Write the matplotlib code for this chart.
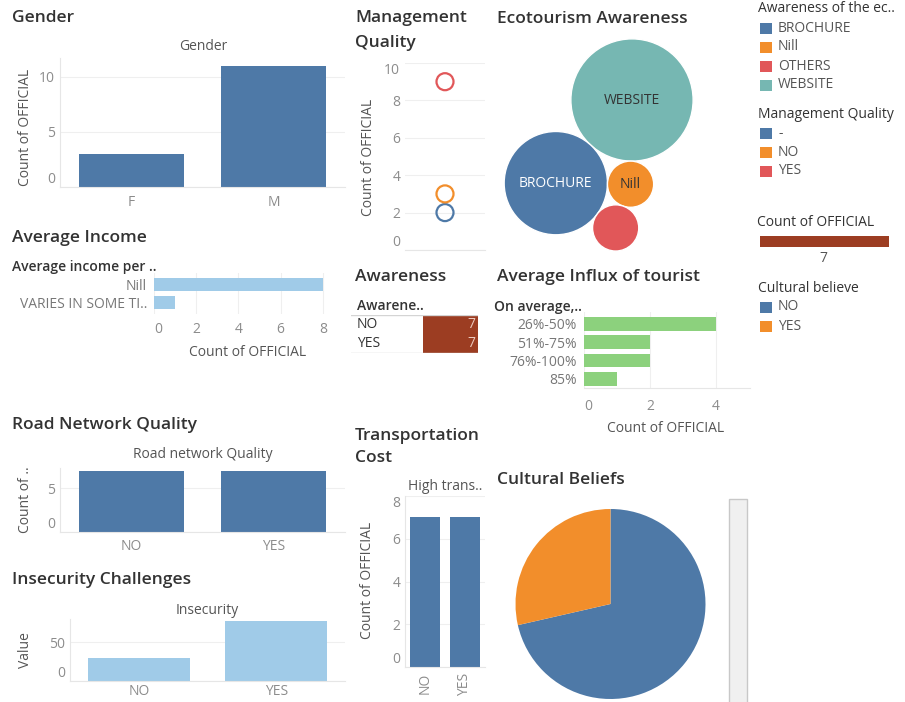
import numpy as np
import matplotlib
matplotlib.use('Agg')
import matplotlib.pyplot as plt
from matplotlib.patches import Rectangle, Circle

plt.rcParams['font.family'] = ['Open Sans', 'DejaVu Sans']

# ---- data ----
gender_cats = ['F', 'M']
gender_counts = [3, 11]

income_cats = ['Nill', 'VARIES IN SOME TI..']
income_counts = [8, 1]

mgmt_cats = ['-', 'NO', 'YES']
mgmt_counts = [2, 3, 9]

eco_cats = ['WEBSITE', 'BROCHURE', 'Nill', 'OTHERS']
eco_counts = [7, 5, 1, 1]

awareness_cats = ['NO', 'YES']
awareness_counts = [7, 7]

influx_cats = ['26%-50%', '51%-75%', '76%-100%', '85%']
influx_counts = [4, 2, 2, 1]

road_cats = ['NO', 'YES']
road_counts = [7, 7]

insecurity_cats = ['NO', 'YES']
insecurity_values = [29, 77]

transport_cats = ['NO', 'YES']
transport_counts = [7, 7]

cultural_cats = ['NO', 'YES']
cultural_counts = [10, 4]

# ---- colours ----
BLUE = '#4e79a7'
ORANGE = '#f28e2b'
RED = '#e15759'
TEAL = '#76b7b2'
LBLUE = '#a0cbe8'
LGREEN = '#8cd17d'
BROWN = '#9c3d22'
TITLE_C = '#333333'
AXT_C = '#555555'
TICK_C = '#8c8c8c'
GRID_C = '#efefef'

W, H = 905, 702
fig = plt.figure(figsize=(W/100, H/100), dpi=100)
fig.patch.set_facecolor('white')

# overlay in pixel coordinates for titles, legends, labels
ov = fig.add_axes([0, 0, 1, 1])
ov.set_xlim(0, W)
ov.set_ylim(H, 0)
ov.axis('off')


def px_axes(x0, y0, x1, y1):
    return fig.add_axes([x0/W, 1 - y1/H, (x1 - x0)/W, (y1 - y0)/H])


def style(ax, grid_axis='y'):
    for s in ['top', 'right']:
        ax.spines[s].set_visible(False)
    for s in ['left', 'bottom']:
        ax.spines[s].set_color('#e6e6e6')
        ax.spines[s].set_linewidth(0.8)
    ax.tick_params(length=0, colors=TICK_C, labelsize=10)
    ax.set_axisbelow(True)
    if grid_axis:
        ax.grid(axis=grid_axis, color=GRID_C, linewidth=0.8)


def inset_edge_labels(ax, axis='y', low=True, high=False):
    # tableau nudges the end labels inward so they don't hang off the pane
    labels = ax.get_yticklabels() if axis == 'y' else ax.get_xticklabels()
    if axis == 'y':
        if low:
            labels[0].set_va('bottom')
        if high:
            labels[-1].set_va('top')
    else:
        if low:
            labels[0].set_ha('left')


def title(x, y, s):
    ov.text(x, y, s, fontsize=12.5, fontweight='semibold', color=TITLE_C, va='center', ha='left')


def ylab(x, y, s):
    ov.text(x, y, s, fontsize=10, color=AXT_C, rotation=90, va='center', ha='center')


def legend_block(x, y, head, labels, colors, step=19):
    ov.text(x - 2, y, head, fontsize=10, color=TITLE_C, va='center', ha='left')
    for i, (lab, c) in enumerate(zip(labels, colors)):
        yy = y + step * (i + 1)
        ov.add_patch(Rectangle((x, yy - 5.5), 12, 11, facecolor=c, edgecolor='none'))
        ov.text(x + 18, yy, lab, fontsize=10, color=AXT_C, va='center', ha='left')


# ---- Gender ----
title(12, 18, 'Gender')
ov.text(203, 47, 'Gender', fontsize=10, color=AXT_C, ha='center', va='center')
ax = px_axes(60, 58, 345, 187)
ax.bar(range(len(gender_cats)), gender_counts, width=0.74, color=BLUE)
ax.set_xlim(-0.5, 1.5)
ax.set_ylim(0, 11.7)
ax.set_yticks([0, 5, 10])
ax.set_xticks(range(len(gender_cats)))
ax.set_xticklabels(gender_cats)
style(ax)
ax.tick_params(axis='x', pad=6)
inset_edge_labels(ax)
ylab(25, 127, 'Count of OFFICIAL')

# ---- Average Income ----
title(12, 238, 'Average Income')
ov.text(12, 267, 'Average income per ..', fontsize=10, fontweight='semibold', color=TITLE_C, va='center')
ax = px_axes(154, 273, 345, 314)
ax.barh(range(len(income_cats)), income_counts, height=0.7, color=LBLUE)
ax.set_ylim(1.6, -0.62)
ax.set_xlim(0, 9.05)
ax.set_xticks([0, 2, 4, 6, 8])
ax.set_yticks(range(len(income_cats)))
ax.set_yticklabels(income_cats)
style(ax, grid_axis='x')
ax.spines['left'].set_visible(False)
ax.spines['bottom'].set_visible(False)
ax.tick_params(axis='x', pad=6)
ax.tick_params(axis='y', pad=5, colors='#777777')
inset_edge_labels(ax, axis='x')
ov.text(248, 352, 'Count of OFFICIAL', fontsize=10, color=AXT_C, ha='center', va='center')

# ---- Management Quality ----
title(355, 18, 'Management')
title(355, 43, 'Quality')
ax = px_axes(405, 63, 485, 250)
ax.scatter([0] * len(mgmt_cats), mgmt_counts, s=150, facecolors='none',
           edgecolors=[BLUE, ORANGE, RED], linewidths=1.6)
ax.set_xlim(-1, 1)
ax.set_ylim(0, 10)
ax.set_yticks([0, 2, 4, 6, 8, 10])
ax.set_xticks([])
style(ax)
ax.spines['left'].set_visible(False)
inset_edge_labels(ax, high=True)
ylab(368, 157, 'Count of OFFICIAL')

# ---- Ecotourism Awareness (packed bubbles) ----
title(497, 19, 'Ecotourism Awareness')
bub_scale = 23.1  # px per sqrt(count)
radii = [bub_scale * np.sqrt(v) for v in eco_counts]


def tangent_to(ca, ra, cb, rb, r, side):
    d = np.array(cb) - np.array(ca)
    dist = np.hypot(*d)
    da, db = ra + r, rb + r
    a = (da**2 - db**2 + dist**2) / (2 * dist)
    h = np.sqrt(max(da**2 - a**2, 0))
    p = np.array(ca) + a * d / dist
    perp = np.array([-d[1], d[0]]) / dist
    return p + side * h * perp


ang = np.deg2rad(227.5)
centers = [np.array([0.0, 0.0])]
centers.append(centers[0] + (radii[0] + radii[1]) * np.array([np.cos(ang), np.sin(ang)]))
centers.append(tangent_to(centers[0], radii[0], centers[1], radii[1], radii[2], 1))
centers.append(tangent_to(centers[1], radii[1], centers[2], radii[2], radii[3], -1))

ax = px_axes(497, 30, 720, 262)
ax.set_xlim(497 - 632, 720 - 632)
ax.set_ylim(100 - 262, 100 - 30)
ax.axis('off')
eco_colors = [TEAL, BLUE, ORANGE, RED]
eco_text = ['#333333', 'white', '#333333', None]
for c, r, col, lab, tc in zip(centers, radii, eco_colors, eco_cats, eco_text):
    ax.add_patch(Circle(c, r, facecolor=col, edgecolor='white', linewidth=1))
    if tc:
        ax.text(c[0], c[1], lab, color=tc, fontsize=10, ha='center', va='center')

# ---- Awareness table ----
title(355, 277, 'Awareness')
ov.text(357, 306, 'Awarene..', fontsize=10, fontweight='semibold', color=TITLE_C, va='center')
ax = px_axes(351, 315, 478, 353)
ax.set_xlim(0, 127)
ax.set_ylim(len(awareness_cats), 0)
rows = np.arange(len(awareness_cats)) + 0.5
ax.barh(rows, [55] * len(rows), left=72, height=1, color=BROWN)
for r, lab, v in zip(rows, awareness_cats, awareness_counts):
    ax.text(6, r, lab, fontsize=10, color=TITLE_C, va='center')
    ax.text(124, r, str(v), fontsize=10, color='#ecc9bd', va='center', ha='right')
ax.axhline(0, color='#d4d4d4', linewidth=1)
ax.axhline(len(awareness_cats), color='#d4d4d4', linewidth=1)
ax.axis('off')

# ---- Average Influx of tourist ----
title(497, 277, 'Average Influx of tourist')
ov.text(494, 307, 'On average,..', fontsize=10, fontweight='semibold', color=TITLE_C, va='center')
ax = px_axes(584, 312, 750, 388)
ax.barh(range(len(influx_cats)), influx_counts, height=0.75, color=LGREEN)
ax.set_ylim(3.5, -0.65)
ax.set_xlim(0, 5.03)
ax.set_xticks([0, 2, 4])
ax.set_yticks(range(len(influx_cats)))
ax.set_yticklabels(influx_cats)
style(ax, grid_axis='x')
ax.spines['left'].set_visible(False)
ax.tick_params(axis='x', pad=8)
ax.tick_params(axis='y', pad=5, colors='#777777')
inset_edge_labels(ax, axis='x')
ov.text(666, 429, 'Count of OFFICIAL', fontsize=10, color=AXT_C, ha='center', va='center')

# ---- Road Network Quality ----
title(12, 425, 'Road Network Quality')
ov.text(203, 455, 'Road network Quality', fontsize=10, color=AXT_C, ha='center', va='center')
ax = px_axes(60, 468, 345, 532)
ax.bar(range(len(road_cats)), road_counts, width=0.74, color=BLUE)
ax.set_xlim(-0.5, 1.5)
ax.set_ylim(0, 7.3)
ax.set_yticks([0, 5])
ax.set_xticks(range(len(road_cats)))
ax.set_xticklabels(road_cats)
style(ax)
ax.tick_params(axis='x', pad=5)
inset_edge_labels(ax)
ylab(25, 500, 'Count of ..')

# ---- Insecurity Challenges ----
title(12, 580, 'Insecurity Challenges')
ov.text(207, 610, 'Insecurity', fontsize=10, color=AXT_C, ha='center', va='center')
ax = px_axes(70, 619, 345, 681)
ax.bar(range(len(insecurity_cats)), insecurity_values, width=0.74, color=LBLUE)
ax.set_xlim(-0.5, 1.5)
ax.set_ylim(0, 79.5)
ax.set_yticks([0, 50])
ax.set_xticks(range(len(insecurity_cats)))
ax.set_xticklabels(insecurity_cats)
style(ax)
ax.tick_params(axis='x', pad=2)
inset_edge_labels(ax)
ylab(25, 650, 'Value')

# ---- Transportation Cost ----
title(355, 436, 'Transportation')
title(355, 458, 'Cost')
ov.text(408, 487, 'High trans..', fontsize=10, color=AXT_C, ha='left', va='center')
ax = px_axes(405, 496, 485, 667)
ax.bar(range(len(transport_cats)), transport_counts, width=0.75, color=BLUE)
ax.set_xlim(-0.5, 1.5)
ax.set_ylim(0, 8)
ax.set_yticks([0, 2, 4, 6, 8])
ax.set_xticks(range(len(transport_cats)))
ax.set_xticklabels(transport_cats, rotation=90)
style(ax)
ax.tick_params(axis='x', pad=4)
inset_edge_labels(ax, high=True)
ylab(367, 580, 'Count of OFFICIAL')

# ---- Cultural Beliefs ----
title(497, 480, 'Cultural Beliefs')
ax = px_axes(515, 509, 706, 699)
ax.pie(cultural_counts, colors=[BLUE, ORANGE], startangle=90, counterclock=False,
       wedgeprops=dict(linewidth=0))
ax.set_xlim(-1, 1)
ax.set_ylim(-1, 1)
ax.set_aspect('equal')
ov.add_patch(Rectangle((729, 499), 18, 215, facecolor='#f0f0f0', edgecolor='#c8c8c8', linewidth=1))

# ---- legends ----
legend_block(760, 9, 'Awareness of the ec..', eco_cats[1:2] + eco_cats[2:4] + eco_cats[0:1],
             [BLUE, ORANGE, RED, TEAL])
legend_block(760, 114, 'Management Quality', mgmt_cats, [BLUE, ORANGE, RED])
ov.text(757, 223, 'Count of OFFICIAL', fontsize=10, color=TITLE_C, va='center')
ov.add_patch(Rectangle((760, 236), 129, 11, facecolor=BROWN, edgecolor='none'))
ov.text(823, 259, str(max(awareness_counts)), fontsize=10, color=AXT_C, ha='center', va='center')
legend_block(760, 288, 'Cultural believe', cultural_cats, [BLUE, ORANGE])

fig.savefig('out.png', dpi=100, facecolor='white')
